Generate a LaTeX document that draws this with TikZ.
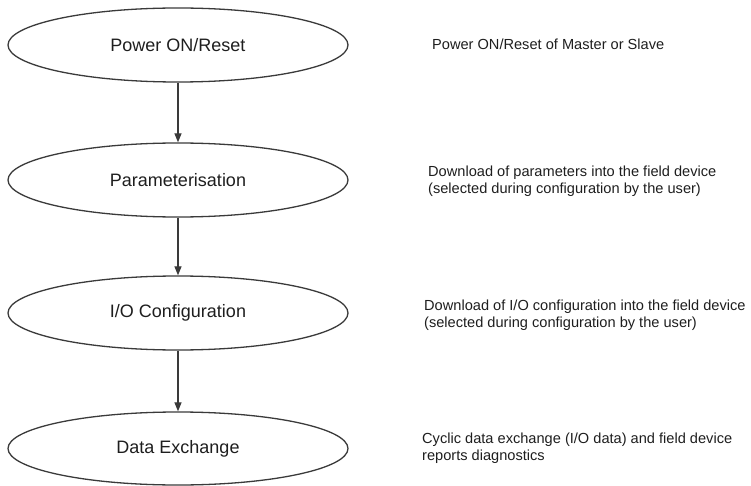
\documentclass[tikz,border=0pt]{standalone}
\usepackage{fontspec}
\setmainfont{Liberation Sans}
\usetikzlibrary{shapes.geometric,arrows.meta}
\definecolor{linegray}{HTML}{3A3A3A}
\definecolor{txt}{HTML}{1E1E1E}
\tikzset{
  stage/.style={ellipse, draw=linegray, line width=1.3pt, minimum width=340pt, minimum height=74pt, inner sep=0pt, font=\fontsize{18}{21}\selectfont, text=txt},
  desc/.style={anchor=west, align=left, inner sep=0pt, font=\fontsize{14.6}{17}\selectfont, text=txt},
  flow/.style={draw=linegray, line width=1.2pt, -{Triangle[length=9pt,width=7pt]}}
}
\begin{document}
\begin{tikzpicture}[x=1pt,y=-1pt]
\useasboundingbox (0,0) rectangle (751,486);
\node[stage] (e1) at (178,45) {Power ON/Reset};
\node[stage] (e2) at (178,180) {Parameterisation};
\node[stage] (e3) at (178,313) {I/O Configuration};
\node[stage, minimum height=73pt] (e4) at (178,448.5) {Data Exchange};
\draw[flow] (e1.south) -- (e2.north);
\draw[flow] (e2.south) -- (e3.north);
\draw[flow] (e3.south) -- (e4.north);
\node[desc] (d1) at (432,44) {Power ON/Reset of Master or Slave};
\node[desc] (d2) at (428,181.5) {Download of parameters into the field device\\(selected during configuration by the user)};
\node[desc] (d3) at (424,315) {Download of I/O configuration into the field device\\(selected during configuration by the user)};
\node[desc] (d4) at (422,448.5) {Cyclic data exchange (I/O data) and field device\\reports diagnostics};
\end{tikzpicture}
\end{document}
